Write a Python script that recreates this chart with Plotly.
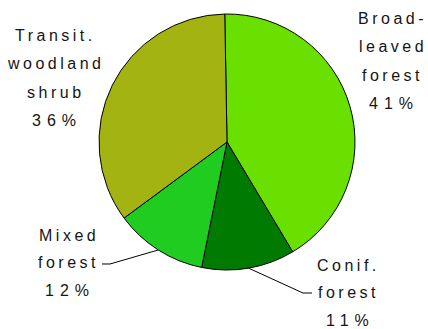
import math
import plotly.graph_objects as go

# ---- data ----
categories = ["Broad-leaved forest", "Conif. forest", "Mixed forest", "Transit. woodland shrub"]
values = [41.7, 11.75, 11.7, 34.85]          # slice sizes
percent_labels = ["41%", "11%", "12%", "36%"]  # printed percentages
label_lines = [
    ["Broad-", "leaved", "forest"],
    ["Conif.", "forest"],
    ["Mixed", "forest"],
    ["Transit.", "woodland", "shrub"],
]
colors = ["#6ae000", "#007a00", "#1fcc1f", "#a3b412"]

# ---- layout geometry (pixels) ----
W, H = 428, 329
cx, cy, R = 227, 142, 128
rotation = -1

fig = go.Figure(go.Pie(
    labels=categories,
    values=values,
    sort=False,
    direction="clockwise",
    rotation=rotation,
    marker=dict(colors=colors, line=dict(color="#000000", width=1)),
    textinfo="none",
    hoverinfo="label+percent",
    showlegend=False,
    domain=dict(x=[(cx - R) / W, (cx + R) / W], y=[1 - (cy + R) / H, 1 - (cy - R) / H]),
))

FONT = dict(family="Liberation Sans, Arial, sans-serif", size=16, color="#151515")


def spaced(s, ls):
    return f'<span style="letter-spacing:{ls}px">{s}</span>'


# text block placement: (center x, list of baselines)
blocks = [
    (391, [24, 52.5, 81, 109]),
    (347, [270.7, 298, 326]),
    (67, [241, 268.5, 296]),
    (54, [40.7, 69.3, 97.7, 126]),
]

annotations = []
for lines, pct, (bx, baselines) in zip(label_lines, percent_labels, blocks):
    texts = [(t, 3.5) for t in lines] + [(pct, 6)]
    for (t, ls), base in zip(texts, baselines):
        annotations.append(dict(
            x=(bx + ls / 2) / W, y=1 - (base - 5.6) / H,
            xref="paper", yref="paper", xanchor="center", yanchor="middle",
            text=spaced(t, ls), showarrow=False, font=FONT,
        ))

# leader lines for the two small slices, starting at slice mid-angle on the rim
total = sum(values)
starts = []
acc = 0
for v in values:
    starts.append(acc)
    acc += v


def rim_point(idx):
    mid = rotation + (starts[idx] + values[idx] / 2) / total * 360
    a = math.radians(mid)
    return cx + R * math.sin(a), cy - R * math.cos(a)


leaders = {1: [(303, 293), (312, 293)], 2: [(110, 264), (102, 264)]}
shapes = []
for idx, pts in leaders.items():
    x0, y0 = rim_point(idx)
    path_pts = [(x0, y0)] + pts
    path = "M " + " L ".join(f"{px / W:.5f},{1 - py / H:.5f}" for px, py in path_pts)
    shapes.append(dict(type="path", path=path, xref="paper", yref="paper",
                       line=dict(color="#000000", width=1)))

fig.update_layout(
    width=W, height=H,
    margin=dict(l=0, r=0, t=0, b=0),
    paper_bgcolor="#ffffff",
    plot_bgcolor="#ffffff",
    annotations=annotations,
    shapes=shapes,
)

fig.write_html(
    "out.html",
    config={"displayModeBar": False},
    post_script="document.body.style.margin='0px';document.body.style.overflow='hidden';",
)
